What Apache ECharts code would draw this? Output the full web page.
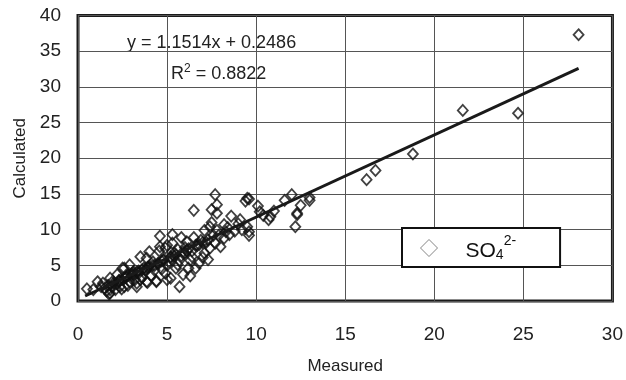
<!DOCTYPE html>
<html>
<head>
<meta charset="utf-8">
<script src="https://cdn.jsdelivr.net/npm/echarts@6/dist/echarts.min.js"></script>
<style>html,body{margin:0;padding:0;background:#fff}#c{width:626px;height:380px}</style>
</head>
<body>
<div id="c"></div>
<script>
const measured = [28.1,24.7,21.6,18.8,16.7,16.2,13.0,13.0,12.5,12.3,12.3,12.0,11.6,12.2,10.8,10.1,9.6,9.5,9.4,10.7,10.2,8.6,7.7,7.8,7.5,7.8,6.5,7.5,7.4,8.2,9.0,9.5,9.6,9.6,8.4,7.8,7.1,4.6,5.3,5.8,6.5,9.1,6.3,6.6,6.8,7.1,7.4,7.7,8.0,8.2,6.0,5.7,5.7,5.0,5.2,4.4,3.9,3.3,2.45,0.5,1.74,1.1,1.8,2.5,3.5,4.0,4.6,5.3,4.4,3.85,3.3,2.9,2.35,1.8,6.2,5.9,5.5,5.0,5.2,4.9,4.2,3.85,3.7,3.1,2.2,1.4,0.86,5.0,4.56,2.9,2.6,1.5,1.6,1.9,2.0,2.1,2.3,2.7,2.8,3.0,3.2,3.4,3.6,3.8,4.0,4.1,4.3,4.5,4.7,4.8,5.1,5.4,5.6,5.8,6.0,6.1,6.4,6.7,6.9,7.2,7.0,6.4,5.6,8.5,8.8,9.2,7.6,10.4,11.0,1.3,2.6,3.5,4.9,7.3,6.3,1.7,1.9,2.2,2.4,2.6,2.8,3.1,3.3,3.6,3.9,4.2,4.5,4.7,5.2,5.5,5.9,6.2,6.6,7.0,7.3,7.9,8.3,1.8,2.3,2.7,3.0,3.4,3.8,4.3,4.8,5.4,6.1,6.8];
const calculated = [37.3,26.3,26.7,20.6,18.3,17.0,14.5,14.1,13.4,12.3,12.1,14.9,14.1,10.4,11.8,13.3,14.3,14.4,14.0,11.4,12.5,11.9,14.9,13.5,12.8,12.3,12.7,11.0,10.4,10.7,10.8,10.4,9.7,9.2,10.3,9.9,9.9,9.1,9.3,8.9,8.9,11.4,5.7,4.6,5.3,6.7,7.4,8.1,7.6,8.8,6.7,5.7,2.0,3.0,3.2,2.8,2.6,2.0,1.7,1.7,1.0,2.7,3.2,4.6,6.2,6.9,7.6,8.1,2.7,2.7,2.5,2.7,2.0,1.1,4.6,3.7,4.6,5.0,6.2,7.4,5.5,6.0,4.6,4.1,3.7,2.5,1.6,7.8,7.0,5.05,4.6,1.8,1.4,2.0,2.5,1.6,2.9,3.3,2.2,3.5,3.0,3.9,3.3,4.2,4.8,3.6,4.3,5.2,4.5,5.8,5.5,6.7,7.2,6.3,7.5,8.3,7.0,7.8,8.5,8.2,6.1,6.2,5.1,9.3,9.8,10.0,9.2,12.0,12.6,2.0,2.0,3.0,3.9,5.8,3.5,2.2,2.6,2.4,3.0,3.2,3.6,3.8,4.1,4.4,4.7,5.0,5.3,5.6,6.1,6.5,6.9,7.3,7.8,8.2,8.6,9.2,9.7,1.6,2.8,3.4,3.8,4.2,4.5,5.0,5.7,6.3,7.1,7.9];
const trendX = [0.4, 28.1];
const trendY = [0.7, 32.6];
const xTicks = [0,5,10,15,20,25,30];
const yTicks = [0,5,10,15,20,25,30,35,40];
const seriesName = 'SO4 2-';
const equationText = 'y = 1.1514x + 0.2486';
const r2Text = '= 0.8822';

const chart = echarts.init(document.getElementById('c'), null, {renderer:'canvas'});
const font = "'Liberation Sans', Arial, sans-serif";
chart.setOption({
  animation: false,
  textStyle: {fontFamily: font},
  grid: {left: 78, right: 13, top: 15.5, bottom: 77, show: true, borderColor: '#1a1a1a', borderWidth: 3},
  xAxis: {
    type: 'value', min: xTicks[0], max: xTicks[xTicks.length-1], interval: 5,
    name: 'Measured', nameLocation: 'middle', nameGap: 57,
    nameTextStyle: {fontSize: 17, color: '#222', fontFamily: font},
    axisLine: {show: false}, axisTick: {show: false},
    axisLabel: {fontSize: 19, color: '#222', margin: 24, fontFamily: font},
    splitLine: {show: true, lineStyle: {color: '#555', width: 1}}
  },
  yAxis: {
    type: 'value', min: yTicks[0], max: yTicks[yTicks.length-1], interval: 5,
    name: 'Calculated', nameLocation: 'middle', nameGap: 46,
    nameTextStyle: {fontSize: 17, color: '#222', fontFamily: font},
    axisLine: {show: false}, axisTick: {show: false},
    axisLabel: {fontSize: 19, color: '#222', margin: 17, fontFamily: font},
    splitLine: {show: true, lineStyle: {color: '#555', width: 1}}
  },
  legend: {
    left: 402, top: 228, orient: 'horizontal',
    padding: [6, 44, 5, 18],
    borderColor: '#111', borderWidth: 2, backgroundColor: '#fff',
    itemWidth: 17, itemHeight: 17, itemGap: 10,
    itemStyle: {color: '#fff', borderColor: '#666', borderWidth: 1},
    formatter: () => '{a|SO}{b|4}{c|2-}',
    textStyle: {
      padding: [0, 0, 0, 23],
      rich: {
        a: {fontSize: 21, color: '#111', fontFamily: font, verticalAlign: 'bottom', lineHeight: 22},
        b: {fontSize: 14, color: '#111', fontFamily: font, verticalAlign: 'bottom', lineHeight: 14},
        c: {fontSize: 14, color: '#111', fontFamily: font, verticalAlign: 'top', lineHeight: 28}
      }
    },
    data: [{name: seriesName, icon: 'diamond'}]
  },
  graphic: [
    {type: 'text', left: 127, top: 34, style: {text: equationText, fontSize: 18, fill: '#222', fontFamily: font}},
    {type: 'text', left: 171, top: 63, style: {text: '{r|R}{s|2}{r| ' + r2Text + '}', fontFamily: font,
      rich: {r: {fontSize: 18, fill: '#222', color: '#222', verticalAlign: 'bottom', lineHeight: 20},
             s: {fontSize: 12, fill: '#222', color: '#222', verticalAlign: 'top', lineHeight: 20}}}}
  ],
  series: [
    {
      name: seriesName, type: 'scatter', symbol: 'diamond', symbolSize: [10, 11],
      itemStyle: {color: 'rgba(255,255,255,0)', borderColor: '#111', borderWidth: 1.8},
      data: measured.map((x, i) => [x, calculated[i]]), z: 2
    },
    {
      name: 'trend', type: 'line', symbol: 'none', silent: true,
      lineStyle: {color: '#1a1a1a', width: 3},
      data: trendX.map((x, i) => [x, trendY[i]]), z: 3
    }
  ]
});
</script>
</body>
</html>
